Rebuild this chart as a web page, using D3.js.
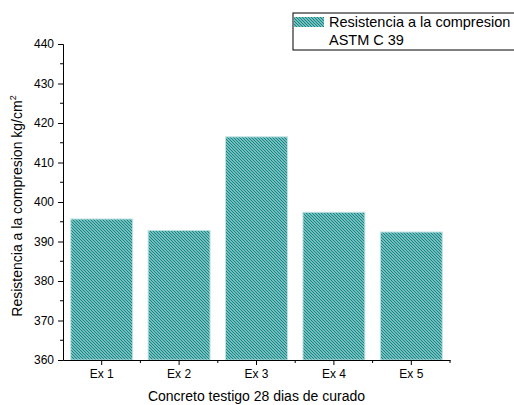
<!DOCTYPE html>
<html><head><meta charset="utf-8">
<script src="https://cdn.jsdelivr.net/npm/d3@7"></script>
<style>body{margin:0;background:#fff}svg{display:block;font-family:"Liberation Sans",Arial,sans-serif}</style>
</head><body>
<script>
const categories = ["Ex 1","Ex 2","Ex 3","Ex 4","Ex 5"];
const values = [395.7, 392.8, 416.5, 397.4, 392.4];
const yTicks = [360,370,380,390,400,410,420,430,440];
const seriesName = ["Resistencia a la compresion","ASTM C 39"];

const W=514,H=405;
const m={l:63,r:64,t:44,b:45};
const svg=d3.select("body").append("svg").attr("width",W).attr("height",H);
const defs=svg.append("defs");
const pat=defs.append("pattern").attr("id","hatch").attr("patternUnits","userSpaceOnUse")
 .attr("width",3).attr("height",3);
pat.append("rect").attr("width",3).attr("height",3).attr("fill","#eef7f7");
pat.append("path").attr("d","M-1,-1 L4,4 M-1,2 L1,4 M2,-1 L4,1").attr("stroke","#0f8888").attr("stroke-width",1.5);

const x=d3.scaleBand().domain(categories).range([m.l,W-m.r]).paddingInner(0.2).paddingOuter(0.1);
const y=d3.scaleLinear().domain([360,440]).range([H-m.b,m.t]);

svg.append("g").selectAll("rect").data(values).join("rect")
 .attr("x",(d,i)=>x(categories[i])).attr("width",x.bandwidth())
 .attr("y",d=>y(d)).attr("height",d=>y(360)-y(d))
 .attr("fill","url(#hatch)").attr("stroke","#c2e2e2").attr("stroke-width",1);

// y axis
const ya=svg.append("g").attr("transform",`translate(${m.l},0)`)
 .call(d3.axisLeft(y).tickValues(yTicks).tickSize(5).tickPadding(4).tickFormat(d3.format("d")));
ya.select(".domain").attr("stroke","#000");
ya.selectAll("text").attr("font-size",12).attr("fill","#000").attr("font-family","Liberation Sans, Arial, sans-serif");
const minorY=d3.range(365,440,10);
svg.append("g").selectAll("line").data(minorY).join("line")
 .attr("x1",m.l-3).attr("x2",m.l).attr("y1",d=>y(d)).attr("y2",d=>y(d)).attr("stroke","#000");

// x axis
const xa=svg.append("g").attr("transform",`translate(0,${H-m.b})`)
 .call(d3.axisBottom(x).tickSize(5).tickPadding(4).tickSizeOuter(0));
xa.select(".domain").attr("stroke","#000");
xa.selectAll("text").attr("font-size",12).attr("fill","#000").attr("font-family","Liberation Sans, Arial, sans-serif");
const minorX=d3.range(1,categories.length).map(i=>x(categories[i])-x.step()*x.paddingInner()/2);
minorX.push(W-m.r);
svg.append("g").selectAll("line").data(minorX).join("line")
 .attr("x1",d=>d).attr("x2",d=>d).attr("y1",H-m.b).attr("y2",H-m.b+3).attr("stroke","#000");

// titles
svg.append("text").attr("x",(m.l+W-m.r)/2).attr("y",401).attr("text-anchor","middle")
 .attr("font-size",14).text("Concreto testigo 28 dias de curado");
const yl=svg.append("text").attr("transform",`translate(22,${(m.t+H-m.b)/2 + 4}) rotate(-90)`)
 .attr("text-anchor","middle").attr("font-size",14);
yl.append("tspan").text("Resistencia a la compresion kg/cm");
yl.append("tspan").attr("dy",-6).attr("font-size",9).text("2");

// legend
const lg=svg.append("g");
lg.append("rect").attr("x",293).attr("y",13).attr("width",230).attr("height",37).attr("fill","#fff").attr("stroke","#000").attr("stroke-width",1);
lg.append("rect").attr("x",294).attr("y",17).attr("width",30).attr("height",10).attr("fill","url(#hatch)");
lg.append("text").attr("x",329).attr("y",27).attr("font-size",14.5).text(seriesName[0]);
lg.append("text").attr("x",329).attr("y",45).attr("font-size",14.5).text(seriesName[1]);
</script>
</body></html>
